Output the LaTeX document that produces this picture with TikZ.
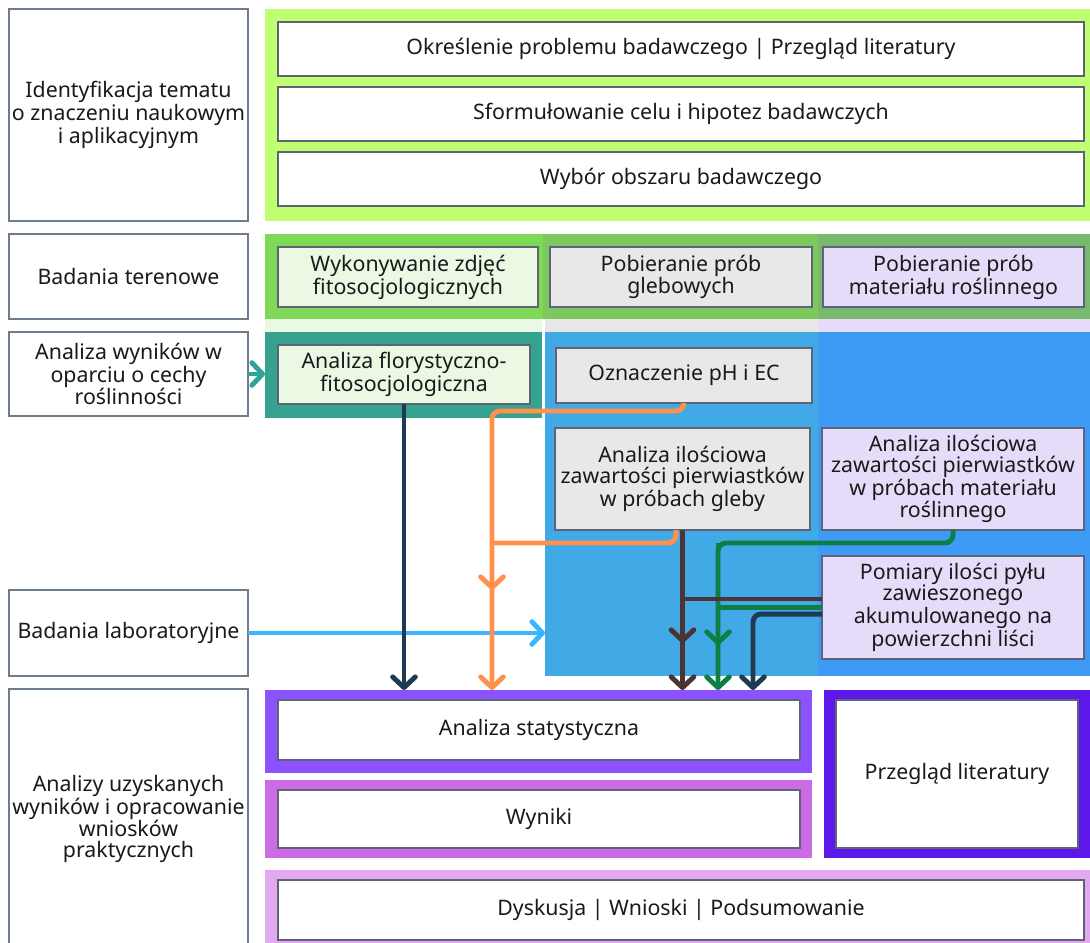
\documentclass[tikz,border=0pt]{standalone}
\usepackage{fontspec}
\setmainfont{Noto Sans}
\usetikzlibrary{arrows.meta}
\definecolor{lime}{HTML}{C1FF72}
\definecolor{gA}{HTML}{7ED957}
\definecolor{gB}{HTML}{7CC85F}
\definecolor{gC}{HTML}{78B96F}
\definecolor{sA}{HTML}{EBF8E4}
\definecolor{sB}{HTML}{E8E8E8}
\definecolor{sC}{HTML}{E6DCFA}
\definecolor{tealB}{HTML}{35A38F}
\definecolor{bluB}{HTML}{40A9E6}
\definecolor{bluC}{HTML}{3D9BF6}
\definecolor{purA}{HTML}{8C52FF}
\definecolor{vioA}{HTML}{5E17EB}
\definecolor{magA}{HTML}{CB6CE6}
\definecolor{pinA}{HTML}{E2A9F0}
\definecolor{boxline}{HTML}{5C6475}
\definecolor{lline}{HTML}{6E7D8E}
\definecolor{txt}{HTML}{1A1A1A}
\definecolor{navyA}{HTML}{1F3A52}
\definecolor{orA}{HTML}{FF914D}
\definecolor{brA}{HTML}{4D3434}
\definecolor{grA}{HTML}{0F7E42}
\definecolor{lbA}{HTML}{38B6FF}
\definecolor{tlA}{HTML}{2EA39A}
\newcommand\bx[7]{\node[#6, minimum width={(#4-#2)*0.75pt}, minimum height={(#5-#3)*0.75pt}] (#1) at ({(#2+#4)/2},{(#3+#5)/2}) {#7};}
\begin{document}
\begin{tikzpicture}[x=0.75pt,y=-0.75pt,
  band/.style={fill=#1, draw=none, inner sep=0pt, outer sep=0pt},
  box/.style={draw=boxline, line width=0.8pt, fill=#1, inner sep=1pt, outer sep=0pt, align=center, text=txt, font=\fontsize{16}{15.8}\selectfont},
  lbox/.style={draw=lline, line width=0.9pt, fill=white, inner sep=0.5pt, outer sep=0pt, align=center, text=txt, font=\fontsize{16}{15.8}\selectfont},
  conn/.style={line width=3.7pt, rounded corners=6pt},
  arr/.style={conn, -{Straight Barb[length=8pt,width=17pt,round]}}]
\useasboundingbox (0,0) rectangle (1090,943);
\clip (0,0) rectangle (1090,943);
% left column
\bx{ident}{9}{9}{248}{221}{lbox}{Identyfikacja tematu\\o znaczeniu naukowym\\i aplikacyjnym}
\bx{teren}{9}{234}{248}{319}{lbox}{Badania terenowe}
\bx{anw}{9}{332}{248}{416}{lbox}{Analiza wyników w\\oparciu o cechy\\roślinności}
\bx{lab}{9}{590}{248}{676}{lbox}{Badania laboratoryjne}
\bx{anal}{9}{689}{248}{949}{lbox}{Analizy uzyskanych\\wyników i opracowanie\\wniosków\\praktycznych}
% row 1
\bx{limeband}{265}{9}{1090}{221}{band=lime}{}
\bx{r1a}{278}{22}{1084}{76}{box=white}{Określenie problemu badawczego | Przegląd literatury}
\bx{r1b}{278}{87}{1084}{141}{box=white}{Sformułowanie celu i hipotez badawczych}
\bx{r1c}{278}{152}{1084}{206}{box=white}{Wybór obszaru badawczego}
% row 2
\bx{gband1}{265}{234}{543}{319}{band=gA}{}
\bx{gband2}{543}{234}{818}{319}{band=gB}{}
\bx{gband3}{818}{234}{1090}{319}{band=gC}{}
\bx{strip1}{265}{319}{542}{332}{band=sA}{}
\bx{strip2}{545}{319}{818}{332}{band=sB}{}
\bx{strip3}{818}{319}{1090}{332}{band=sC}{}
\bx{zdj}{278}{247}{538}{307}{box=sA}{Wykonywanie zdjęć\\fitosocjologicznych}
\bx{glb}{550}{247}{812}{307}{box=sB}{Pobieranie prób\\glebowych}
\bx{rosl}{823}{247}{1084}{307}{box=sC}{Pobieranie prób\\materiału roślinnego}
% row 3 regions
\bx{tealband}{265}{332}{542}{418}{band=tealB}{}
\bx{blueband}{545}{332}{818}{676}{band=bluB}{}
\bx{blueband3}{818}{332}{1090}{676}{band=bluC}{}
\bx{flor}{278}{345}{530}{404}{box=sA}{Analiza florystyczno-\\fitosocjologiczna}
\bx{ph}{556}{348}{812}{403}{box=sB}{Oznaczenie pH i EC}
\bx{gleby}{555}{428}{810}{530}{box=sB}{Analiza ilościowa\\zawartości pierwiastków\\w próbach gleby}
\bx{mat}{822}{428}{1084}{530}{box=sC}{Analiza ilościowa\\zawartości pierwiastków\\w próbach materiału\\roślinnego}
\bx{pom}{822}{556}{1084}{659}{box=sC}{Pomiary ilości pyłu\\zawieszonego\\akumulowanego na\\powierzchni liści}
% bottom
\bx{statband}{265}{690}{812}{773}{band=purA}{}
\bx{stat}{278}{700}{800}{760}{box=white}{Analiza statystyczna}
\bx{litband}{824}{690}{1090}{858}{band=vioA}{}
\bx{lit}{836}{700}{1078}{848}{box=white}{Przegląd literatury}
\bx{wynband}{265}{780}{812}{858}{band=magA}{}
\bx{wyn}{278}{790}{800}{848}{box=white}{Wyniki}
\bx{dysband}{265}{870}{1090}{960}{band=pinA}{}
\bx{dys}{278}{880}{1084}{940}{box=white}{Dyskusja | Wnioski | Podsumowanie}
% coordinates
\coordinate (o1) at (492,411);
\coordinate (oj) at (492,543);
\coordinate (g1) at (718,543);
\coordinate (n1) at (753,0);
\coordinate (pb) at ([yshift=6.4pt]pom.west);
\coordinate (pn) at ([yshift=-4.9pt]pom.west);
\coordinate (gs) at ([xshift=-4.9pt]gleby.south);
% connectors
\draw[arr, tlA] (anw.east) -- (anw.east -| tealband.west);
\draw[arr, lbA] (lab.east) -- (lab.east -| blueband.west);
\draw[arr, navyA] (flor.south) -- (flor.south |- statband.north);
\draw[arr, orA] (ph.south) |- (o1) -- (o1 |- statband.north);
\draw[conn, orA] (gs) |- (oj);
\draw[arr, orA] (oj) -- (492,590);
\draw[arr, grA] (mat.south) |- (g1) -- (g1 |- statband.north);
\draw[arr, grA] (g1) -- (718,645);
\draw[conn, grA] (pom.west) -- (pom.west -| g1);
\draw[arr, brA] (gleby.south) -- (gleby.south |- statband.north);
\draw[arr, brA] (gleby.south) -- (682.5,643);
\draw[conn, brA] (pb) -- (pb -| gleby.south);
\draw[arr, navyA] (pn) -| (n1 |- statband.north);
\end{tikzpicture}
\end{document}
